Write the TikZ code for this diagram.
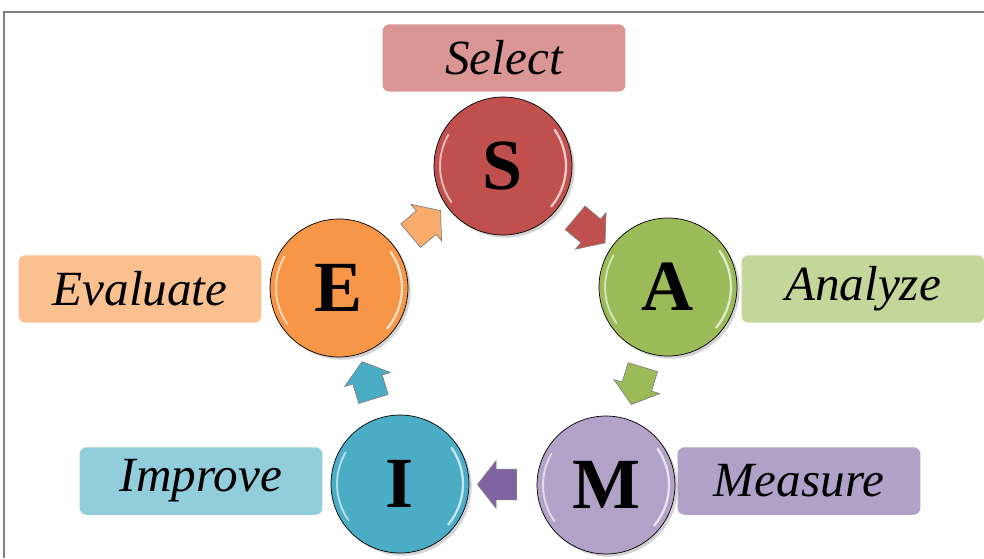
\documentclass[tikz,border=0pt]{standalone}
\usepackage{fontspec}
\setmainfont{Liberation Serif}
\usetikzlibrary{calc,shapes.arrows,shadows}

\definecolor{selred}{HTML}{C0504D}
\definecolor{selbox}{HTML}{DA9694}
\definecolor{anagreen}{HTML}{9BBB59}
\definecolor{anabox}{HTML}{C4D79B}
\definecolor{meapurple}{HTML}{B3A2C7}
\definecolor{meabox}{HTML}{B1A0C7}
\definecolor{meaarrow}{HTML}{8064A2}
\definecolor{impblue}{HTML}{4BACC6}
\definecolor{impbox}{HTML}{92CDDC}
\definecolor{evaorange}{HTML}{F79646}
\definecolor{evabox}{HTML}{FAC090}

\begin{document}
\begin{tikzpicture}[x=0.02cm, y=-0.02cm]
\useasboundingbox (0,0) rectangle (984,558);
\tikzstyle{ball} = [circle, draw=black, thin, minimum size=2.76cm, inner sep=0pt,
  drop shadow={shadow xshift=1.5pt, shadow yshift=-1.5pt, opacity=.35},
  font=\fontsize{41}{44}\selectfont\bfseries]
\tikzstyle{tag} = [rounded corners=4pt, minimum width=4.86cm, minimum height=1.35cm,
  inner sep=0pt, font=\fontsize{28}{32}\selectfont\itshape]
\tikzstyle{turn} = [single arrow, draw=gray, thin, inner xsep=0pt, inner ysep=0.3cm,
  minimum height=0.78cm, single arrow head extend=0.17cm, single arrow tip angle=104]
% frame
\draw[gray, line width=1.5pt] (4,558) -- (4,12) -- (984,12);
% the five steps
\node[ball, fill=selred]    (S) at (503,166) {S};
\node[ball, fill=anagreen]  (A) at (668,287) {A};
\node[ball, fill=meapurple] (M) at (606,485) {M};
\node[ball, fill=impblue]   (I) at (400,484) {I};
\node[ball, fill=evaorange] (E) at (339,288) {E};
\foreach \n in {S,A,M,I,E} {
  \draw[white, opacity=.7, line width=1.3pt, line cap=round]
    ([shift={(-40:1.26cm)}]\n.center) arc[start angle=-40, end angle=35, radius=1.26cm];
  \draw[white, opacity=.6, line width=1.1pt, line cap=round]
    ([shift={(150:1.26cm)}]\n.center) arc[start angle=150, end angle=215, radius=1.26cm];
}
% labels
\node[tag, fill=selbox] (sel) at (504,58)  {Select};
\node[tag, fill=anabox] (ana) at (863,289) {Analyze};
\node[tag, fill=meabox] (mea) at (799,481) {Measure};
\node[tag, fill=impbox] (imp) at (201,481) {Improve};
\node[tag, fill=evabox] (eva) at (140,289) {Evaluate};
% arrows between steps
\node[turn, fill=evaorange!80!white, rotate=40]   (es) at ($(E)!.5!(S)$) {};
\node[turn, fill=selred, rotate=-40]              (sa) at ($(S)!.5!(A)$) {};
\node[turn, fill=anagreen, rotate=-107]           (am) at ($(A)!.47!(M)$) {};
\node[turn, fill=meaarrow, rotate=180]            (mi) at ($(M)!.5!(I)$) {};
\node[turn, fill=impblue, rotate=107]             (ie) at ($(I)!.5!(E)$) {};
\end{tikzpicture}
\end{document}
